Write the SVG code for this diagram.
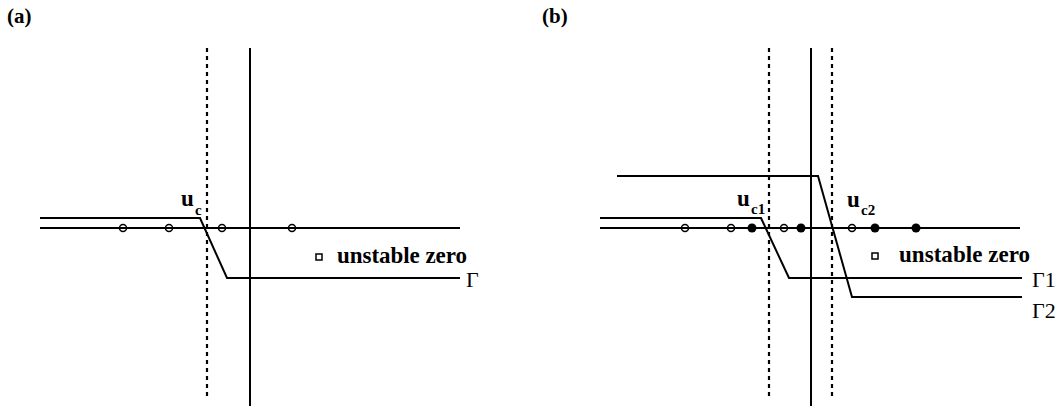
<svg xmlns="http://www.w3.org/2000/svg" width="1060" height="406" viewBox="0 0 1060 406">
<style>
.ln{stroke:#000;stroke-width:2;fill:none}
.dot{stroke:#000;stroke-width:2.2;stroke-dasharray:4,4;fill:none}
.oc{stroke:#000;stroke-width:1.5;fill:none}
.fc{fill:#000}
.t{font-family:"Liberation Serif",serif;font-weight:bold;fill:#000}
.g{font-family:"Liberation Serif",serif;fill:#000}
</style>
<rect width="1060" height="406" fill="#fff"/>
<g id="panel-a">
  <text class="t" x="7" y="23" font-size="21">(a)</text>
  <g id="connectors-a">
    <line class="dot" x1="207" y1="48" x2="207" y2="398"/>
    <line class="ln" x1="250" y1="48" x2="250" y2="406"/>
    <line class="ln" x1="40" y1="228" x2="460" y2="228"/>
    <polyline class="ln" points="40,218 200,218 227,278 460,278"/>
  </g>
  <g id="zeros-a">
    <circle class="oc" cx="123" cy="228" r="3.5"/>
    <circle class="oc" cx="169" cy="228" r="3.5"/>
    <circle class="oc" cx="222" cy="228" r="3.5"/>
    <circle class="oc" cx="292" cy="228" r="3.5"/>
  </g>
  <g id="label-uc">
    <text class="t" x="181" y="206" font-size="23">u</text>
    <text class="t" x="195" y="215" font-size="15">c</text>
  </g>
  <g id="legend-a">
    <rect x="316" y="254" width="6" height="6" class="oc"/>
    <text class="t" x="337" y="263" font-size="23" textLength="130">unstable zero</text>
  </g>
  <text class="g" x="466" y="287" font-size="22">Γ</text>
</g>
<g id="panel-b">
  <text class="t" x="542" y="23" font-size="21">(b)</text>
  <g id="connectors-b">
    <line class="dot" x1="769" y1="48" x2="769" y2="398"/>
    <line class="dot" x1="832" y1="48" x2="832" y2="398"/>
    <line class="ln" x1="811" y1="48" x2="811" y2="406"/>
    <line class="ln" x1="600" y1="228" x2="1020" y2="228"/>
    <polyline class="ln" points="600,218 761,218 789,278 1022,278"/>
    <polyline class="ln" points="617,176 818,176 852,297 1022,297"/>
  </g>
  <g id="zeros-b">
    <circle class="oc" cx="685" cy="228" r="3.5"/>
    <circle class="oc" cx="731" cy="228" r="3.5"/>
    <circle class="oc" cx="784" cy="228" r="3.5"/>
    <circle class="oc" cx="852" cy="228" r="3.5"/>
    <circle class="fc" cx="752" cy="228" r="4.5"/>
    <circle class="fc" cx="801" cy="228" r="4.5"/>
    <circle class="fc" cx="875" cy="228" r="4.5"/>
    <circle class="fc" cx="916" cy="228" r="4.5"/>
  </g>
  <g id="label-uc1">
    <text class="t" x="737" y="206" font-size="23">u</text>
    <text class="t" x="751" y="214" font-size="15">c1</text>
  </g>
  <g id="label-uc2">
    <text class="t" x="847" y="207" font-size="23">u</text>
    <text class="t" x="861" y="215" font-size="15">c2</text>
  </g>
  <g id="legend-b">
    <rect x="872" y="253" width="6" height="6" class="oc"/>
    <text class="t" x="899" y="262" font-size="23" textLength="131">unstable zero</text>
  </g>
  <text class="g" x="1032" y="287" font-size="22">Γ1</text>
  <text class="g" x="1032" y="318" font-size="22">Γ2</text>
</g>
</svg>
